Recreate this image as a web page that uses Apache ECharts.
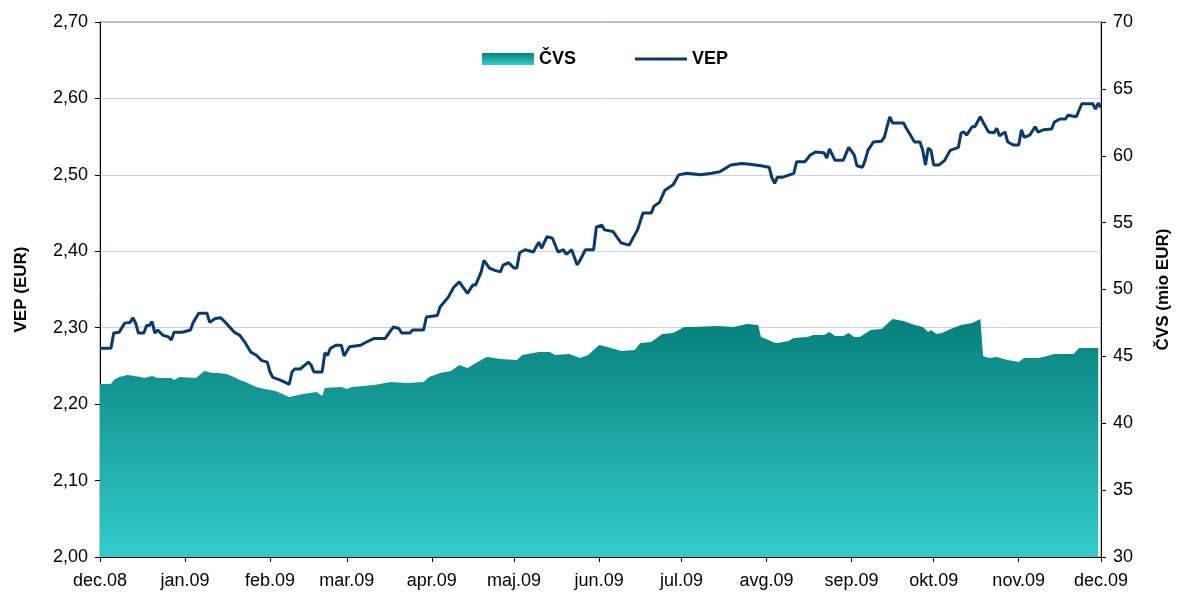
<!DOCTYPE html>
<html>
<head>
<meta charset="utf-8">
<script src="https://cdn.jsdelivr.net/npm/echarts@6/dist/echarts.min.js"></script>
<style>
  html, body { margin: 0; padding: 0; background: #fff; }
  #chart { width: 1180px; height: 600px; }
</style>
</head>
<body>
<div id="chart"></div>
<script>
// mesecne oznake na osi x
var monthTicks = ['2008-12-01', '2009-01-01', '2009-02-01', '2009-03-01', '2009-04-01', '2009-05-01', '2009-06-01',
    '2009-07-01', '2009-08-01', '2009-09-01', '2009-10-01', '2009-11-01', '2009-12-01'];
var monthLabels = ['dec.08', 'jan.09', 'feb.09', 'mar.09', 'apr.09', 'maj.09', 'jun.09',
    'jul.09', 'avg.09', 'sep.09', 'okt.09', 'nov.09', 'dec.09'];

// VEP (EUR)
var vepDates = [
    '2008-12-01', '2008-12-05', '2008-12-06', '2008-12-08', '2008-12-10', '2008-12-12', '2008-12-13', '2008-12-14',
    '2008-12-15', '2008-12-17', '2008-12-18', '2008-12-19', '2008-12-20', '2008-12-21', '2008-12-22', '2008-12-24',
    '2008-12-26', '2008-12-27', '2008-12-28', '2008-12-31', '2009-01-03', '2009-01-04', '2009-01-06', '2009-01-09',
    '2009-01-10', '2009-01-12', '2009-01-14', '2009-01-16', '2009-01-19', '2009-01-21', '2009-01-23', '2009-01-25',
    '2009-01-27', '2009-01-29', '2009-01-31', '2009-02-01', '2009-02-02', '2009-02-05', '2009-02-08', '2009-02-09',
    '2009-02-10', '2009-02-12', '2009-02-15', '2009-02-16', '2009-02-17', '2009-02-20', '2009-02-21', '2009-02-22',
    '2009-02-23', '2009-02-25', '2009-02-27', '2009-02-28', '2009-03-02', '2009-03-06', '2009-03-08', '2009-03-11',
    '2009-03-15', '2009-03-18', '2009-03-20', '2009-03-21', '2009-03-24', '2009-03-25', '2009-03-29', '2009-03-30',
    '2009-04-03', '2009-04-04', '2009-04-07', '2009-04-09', '2009-04-11', '2009-04-14', '2009-04-16', '2009-04-17',
    '2009-04-19', '2009-04-20', '2009-04-22', '2009-04-24', '2009-04-26', '2009-04-27', '2009-04-29', '2009-05-01',
    '2009-05-02', '2009-05-03', '2009-05-05', '2009-05-08', '2009-05-10', '2009-05-11', '2009-05-13', '2009-05-15',
    '2009-05-17', '2009-05-19', '2009-05-20', '2009-05-22', '2009-05-24', '2009-05-25', '2009-05-27', '2009-05-30',
    '2009-05-31', '2009-06-02', '2009-06-03', '2009-06-06', '2009-06-09', '2009-06-12', '2009-06-13', '2009-06-15',
    '2009-06-17', '2009-06-20', '2009-06-21', '2009-06-23', '2009-06-25', '2009-06-28', '2009-06-30', '2009-07-03',
    '2009-07-08', '2009-07-12', '2009-07-15', '2009-07-19', '2009-07-23', '2009-07-26', '2009-07-30', '2009-08-02',
    '2009-08-03', '2009-08-04', '2009-08-05', '2009-08-07', '2009-08-11', '2009-08-12', '2009-08-15', '2009-08-17',
    '2009-08-19', '2009-08-22', '2009-08-23', '2009-08-24', '2009-08-26', '2009-08-29', '2009-08-31', '2009-09-02',
    '2009-09-03', '2009-09-05', '2009-09-06', '2009-09-07', '2009-09-09', '2009-09-12', '2009-09-13', '2009-09-14',
    '2009-09-15', '2009-09-16', '2009-09-20', '2009-09-21', '2009-09-22', '2009-09-24', '2009-09-26', '2009-09-27',
    '2009-09-28', '2009-09-29', '2009-09-30', '2009-10-01', '2009-10-03', '2009-10-05', '2009-10-07', '2009-10-10',
    '2009-10-11', '2009-10-12', '2009-10-13', '2009-10-15', '2009-10-16', '2009-10-18', '2009-10-19', '2009-10-21',
    '2009-10-23', '2009-10-24', '2009-10-25', '2009-10-27', '2009-10-28', '2009-10-30', '2009-11-01', '2009-11-02',
    '2009-11-03', '2009-11-05', '2009-11-07', '2009-11-08', '2009-11-10', '2009-11-13', '2009-11-14', '2009-11-16',
    '2009-11-18', '2009-11-19', '2009-11-22', '2009-11-24', '2009-11-28', '2009-11-29', '2009-11-30', '2009-12-01'
];
var vepValues = [
    2.273, 2.273, 2.293, 2.294, 2.306, 2.307, 2.313, 2.306,
    2.293, 2.293, 2.303, 2.303, 2.308, 2.293, 2.297, 2.290,
    2.288, 2.284, 2.294, 2.294, 2.297, 2.307, 2.319, 2.319,
    2.307, 2.312, 2.313, 2.306, 2.294, 2.290, 2.280, 2.268,
    2.264, 2.257, 2.255, 2.242, 2.235, 2.231, 2.226, 2.242,
    2.246, 2.246, 2.255, 2.251, 2.242, 2.242, 2.267, 2.264,
    2.273, 2.277, 2.277, 2.263, 2.275, 2.277, 2.281, 2.286,
    2.286, 2.301, 2.299, 2.293, 2.293, 2.297, 2.297, 2.314,
    2.316, 2.327, 2.340, 2.353, 2.360, 2.345, 2.356, 2.356,
    2.373, 2.388, 2.378, 2.375, 2.373, 2.382, 2.385, 2.378,
    2.378, 2.398, 2.402, 2.399, 2.412, 2.404, 2.419, 2.417,
    2.399, 2.402, 2.396, 2.402, 2.382, 2.388, 2.402, 2.402,
    2.432, 2.434, 2.428, 2.426, 2.411, 2.408, 2.415, 2.428,
    2.450, 2.450, 2.459, 2.464, 2.480, 2.487, 2.500, 2.502,
    2.500, 2.502, 2.504, 2.513, 2.515, 2.514, 2.512, 2.510,
    2.496, 2.489, 2.497, 2.497, 2.502, 2.517, 2.517, 2.526,
    2.530, 2.529, 2.522, 2.534, 2.519, 2.519, 2.536, 2.526,
    2.512, 2.510, 2.519, 2.532, 2.543, 2.544, 2.549, 2.563,
    2.576, 2.568, 2.568, 2.561, 2.555, 2.543, 2.543, 2.532,
    2.513, 2.535, 2.532, 2.513, 2.513, 2.519, 2.532, 2.536,
    2.555, 2.556, 2.552, 2.563, 2.563, 2.576, 2.569, 2.556,
    2.555, 2.561, 2.551, 2.556, 2.543, 2.539, 2.539, 2.559,
    2.549, 2.552, 2.563, 2.556, 2.559, 2.560, 2.569, 2.573,
    2.573, 2.578, 2.576, 2.593, 2.593, 2.586, 2.594, 2.588
];

// ČVS (mio EUR)
var cvsDates = [
    '2008-12-01', '2008-12-05', '2008-12-06', '2008-12-08', '2008-12-11', '2008-12-16', '2008-12-17', '2008-12-20',
    '2008-12-22', '2008-12-27', '2008-12-28', '2008-12-30', '2009-01-05', '2009-01-08', '2009-01-11', '2009-01-13',
    '2009-01-16', '2009-01-18', '2009-01-21', '2009-01-23', '2009-01-27', '2009-01-30', '2009-02-03', '2009-02-08',
    '2009-02-13', '2009-02-18', '2009-02-20', '2009-02-21', '2009-02-27', '2009-03-01', '2009-03-03', '2009-03-11',
    '2009-03-17', '2009-03-23', '2009-03-29', '2009-03-31', '2009-04-04', '2009-04-08', '2009-04-11', '2009-04-14',
    '2009-04-19', '2009-04-21', '2009-04-26', '2009-05-02', '2009-05-04', '2009-05-10', '2009-05-14', '2009-05-16',
    '2009-05-21', '2009-05-25', '2009-05-28', '2009-06-01', '2009-06-04', '2009-06-09', '2009-06-14', '2009-06-16',
    '2009-06-20', '2009-06-24', '2009-06-28', '2009-07-02', '2009-07-05', '2009-07-14', '2009-07-20', '2009-07-25',
    '2009-07-29', '2009-07-30', '2009-08-02', '2009-08-04', '2009-08-05', '2009-08-09', '2009-08-11', '2009-08-16',
    '2009-08-18', '2009-08-22', '2009-08-24', '2009-08-26', '2009-08-29', '2009-08-31', '2009-09-02', '2009-09-04',
    '2009-09-08', '2009-09-12', '2009-09-16', '2009-09-20', '2009-09-24', '2009-09-27', '2009-09-29', '2009-09-30',
    '2009-10-02', '2009-10-04', '2009-10-08', '2009-10-11', '2009-10-15', '2009-10-18', '2009-10-19', '2009-10-21',
    '2009-10-24', '2009-10-28', '2009-11-01', '2009-11-03', '2009-11-08', '2009-11-10', '2009-11-14', '2009-11-21',
    '2009-11-23', '2009-11-30'
];
var cvsValues = [
    42.93, 42.93, 43.23, 43.46, 43.61, 43.46, 43.38, 43.53,
    43.38, 43.38, 43.23, 43.46, 43.38, 43.91, 43.76, 43.76,
    43.68, 43.53, 43.23, 43.08, 42.71, 42.56, 42.41, 41.96,
    42.19, 42.34, 42.04, 42.64, 42.71, 42.56, 42.71, 42.86,
    43.08, 43.01, 43.08, 43.46, 43.76, 43.91, 44.36, 44.13,
    44.73, 44.95, 44.80, 44.73, 45.10, 45.33, 45.33, 45.10,
    45.18, 44.88, 45.10, 45.85, 45.70, 45.40, 45.48, 46.00,
    46.07, 46.67, 46.75, 47.20, 47.20, 47.27, 47.20, 47.42,
    47.35, 46.45, 46.20, 46.00, 46.00, 46.15, 46.37, 46.45,
    46.60, 46.60, 46.82, 46.52, 46.52, 46.75, 46.45, 46.45,
    46.97, 47.05, 47.80, 47.65, 47.35, 47.20, 46.82, 46.97,
    46.67, 46.75, 47.12, 47.35, 47.50, 47.80, 45.03, 44.88,
    44.95, 44.73, 44.58, 44.88, 44.88, 44.95, 45.18, 45.18,
    45.63, 45.63
];

function ts(s) {
    var p = s.split('-');
    return Date.UTC(+p[0], +p[1] - 1, +p[2]);
}

var tickTimes = monthTicks.map(ts);
var vepData = vepDates.map(function (d, i) { return [ts(d), vepValues[i]]; });
var cvsData = cvsDates.map(function (d, i) { return [ts(d), cvsValues[i]]; });

var areaFill = new echarts.graphic.LinearGradient(0, 0, 0, 1, [
    { offset: 0, color: '#07807b' },
    { offset: 1, color: '#33cccc' }
]);

var font = '"Liberation Sans", Arial, sans-serif';
var vepColor = '#073a6e';

var myChart = echarts.init(document.getElementById('chart'));

var option = {
    animation: false,
    textStyle: { fontFamily: font },
    grid: {
        left: 100,
        right: 77,
        top: 22,
        bottom: 43,
        show: true,
        borderColor: '#808080',
        borderWidth: 1
    },
    legend: {
        left: 477,
        top: 45,
        itemWidth: 52,
        itemHeight: 12,
        itemGap: 59,
        selectedMode: false,
        textStyle: { fontFamily: font, fontSize: 18, fontWeight: 'bold', color: '#000' },
        data: [
            { name: 'ČVS', icon: 'rect', itemStyle: { color: areaFill } },
            // tanka crta, okvir ostane 52x12
            { name: 'VEP', icon: 'path://M0,0 M0,4.5 L52,4.5 L52,7.5 L0,7.5 Z M52,12', itemStyle: { color: vepColor } }
        ]
    },
    xAxis: {
        type: 'value',
        min: tickTimes[0],
        max: tickTimes[tickTimes.length - 1],
        splitLine: { show: false },
        axisLine: { lineStyle: { color: '#000', width: 1 } },
        axisTick: { customValues: tickTimes, length: 5, lineStyle: { color: '#000' } },
        axisLabel: {
            customValues: tickTimes,
            margin: 15,
            fontSize: 18,
            color: '#000',
            formatter: function (v) {
                var i = tickTimes.indexOf(v);
                return i >= 0 ? monthLabels[i] : '';
            }
        }
    },
    yAxis: [
        {
            type: 'value',
            min: 2.0,
            max: 2.7,
            interval: 0.1,
            name: 'VEP (EUR)',
            nameLocation: 'middle',
            nameRotate: 90,
            nameGap: 70,
            nameTextStyle: { fontSize: 17, fontWeight: 'bold', color: '#000' },
            axisLine: { show: true, lineStyle: { color: '#000', width: 1 } },
            axisTick: { show: true, length: 5, lineStyle: { color: '#000' } },
            axisLabel: {
                fontSize: 18,
                color: '#000',
                margin: 12,
                formatter: function (v) { return v.toFixed(2).replace('.', ','); }
            },
            splitLine: { show: true, showMaxLine: false, lineStyle: { color: '#ccccff', width: 1 } }
        },
        {
            type: 'value',
            min: 30,
            max: 70,
            interval: 5,
            position: 'right',
            name: 'ČVS (mio EUR)',
            nameLocation: 'middle',
            nameRotate: 90,
            nameGap: 54,
            nameTextStyle: { fontSize: 17, fontWeight: 'bold', color: '#000' },
            axisLine: { show: true, lineStyle: { color: '#000', width: 1 } },
            axisTick: { show: true, length: 5, lineStyle: { color: '#000' } },
            axisLabel: { fontSize: 18, color: '#000', margin: 12 },
            splitLine: { show: false }
        }
    ],
    series: [
        {
            name: 'ČVS',
            type: 'line',
            yAxisIndex: 1,
            data: cvsData,
            showSymbol: false,
            symbol: 'none',
            lineStyle: { width: 0 },
            itemStyle: { color: '#1aa5a2' },
            areaStyle: { color: areaFill, opacity: 1, origin: 'start' },
            z: 2
        },
        {
            name: 'VEP',
            type: 'line',
            yAxisIndex: 0,
            data: vepData,
            showSymbol: false,
            symbol: 'none',
            lineStyle: { color: vepColor, width: 3 },
            itemStyle: { color: vepColor },
            z: 3
        }
    ]
};

myChart.setOption(option);
</script>
</body>
</html>
